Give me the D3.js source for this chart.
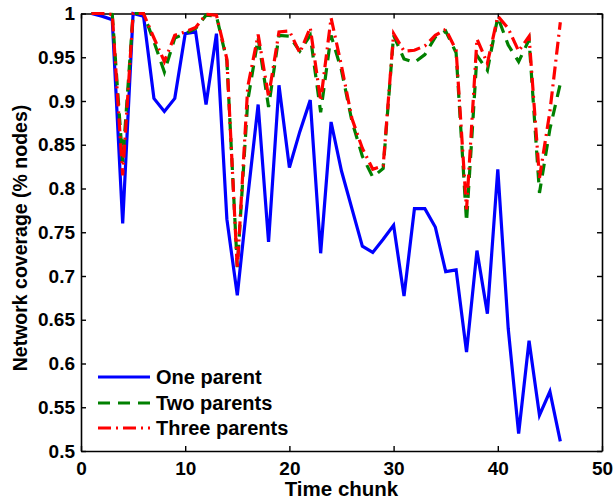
<!DOCTYPE html>
<html>
<head>
<meta charset="utf-8">
<script src="https://cdn.jsdelivr.net/npm/d3@7"></script>
<style>
  html, body { margin: 0; padding: 0; background: #fff; }
  svg text { font-family: "Liberation Sans", Arial, Helvetica, sans-serif; font-weight: bold; fill: #000; }
</style>
</head>
<body>
<svg id="chart" width="615" height="501"></svg>
<script>
const timeChunks = d3.range(1, 47);
const oneParent = [1.0, 0.997, 0.993, 0.760, 1.0, 0.997, 0.903, 0.888, 0.903, 0.977,
  0.979, 0.896, 0.977, 0.765, 0.678, 0.790, 0.896, 0.739, 0.918, 0.824,
  0.865, 0.901, 0.726, 0.876, 0.820, 0.777, 0.734, 0.727, 0.742, 0.758,
  0.677, 0.777, 0.777, 0.756, 0.705, 0.707, 0.613, 0.729, 0.657, 0.822,
  0.640, 0.520, 0.626, 0.541, 0.568, 0.511];
const twoParents = [1.0, 1.0, 0.999, 0.830, 1.0, 1.0, 0.968, 0.933, 0.972, 0.977,
  0.983, 0.998, 0.997, 0.946, 0.710, 0.900, 0.972, 0.893, 0.975, 0.974,
  0.957, 0.975, 0.887, 0.975, 0.935, 0.877, 0.837, 0.813, 0.823, 0.975,
  0.948, 0.944, 0.953, 0.973, 0.980, 0.955, 0.762, 0.952, 0.935, 0.996,
  0.964, 0.945, 0.970, 0.795, 0.868, 0.920];
const threeParents = [1.0, 1.0, 0.999, 0.815, 1.0, 1.0, 0.972, 0.945, 0.975, 0.979,
  0.984, 0.999, 0.998, 0.948, 0.708, 0.916, 0.976, 0.905, 0.979, 0.980,
  0.955, 0.984, 0.900, 0.995, 0.940, 0.880, 0.846, 0.822, 0.826, 0.977,
  0.957, 0.958, 0.963, 0.975, 0.982, 0.958, 0.776, 0.971, 0.943, 0.997,
  0.983, 0.957, 0.974, 0.812, 0.888, 0.990];
const seriesNames = ["One parent", "Two parents", "Three parents"];
const xTicks = [0, 10, 20, 30, 40, 50];
const yTicks = [0.5, 0.55, 0.6, 0.65, 0.7, 0.75, 0.8, 0.85, 0.9, 0.95, 1];
const yTickLabels = ["0.5", "0.55", "0.6", "0.65", "0.7", "0.75", "0.8", "0.85", "0.9", "0.95", "1"];

const series = [
  { name: seriesNames[0], values: oneParent, color: "#0000ff", dash: null },
  { name: seriesNames[1], values: twoParents, color: "#008000", dash: "12,8" },
  { name: seriesNames[2], values: threeParents, color: "#ff0000", dash: "13,5,2,5" }
];

const L = 81, R = 602, T = 13.5, B = 451;
const svg = d3.select("#chart");
const x = d3.scaleLinear().domain([0, 50]).range([L, R]);
const y = d3.scaleLinear().domain([0.5, 1]).range([B, T]);
const fs = 19;

// axes
const gx = svg.append("g").attr("transform", `translate(0,${B})`)
  .call(d3.axisBottom(x).tickValues(xTicks).tickSizeInner(-5).tickSizeOuter(0).tickPadding(11));
const gxt = svg.append("g").attr("transform", `translate(0,${T})`)
  .call(d3.axisTop(x).tickValues(xTicks).tickSizeInner(-5).tickSizeOuter(0).tickFormat(""));
const gy = svg.append("g").attr("transform", `translate(${L},0)`)
  .call(d3.axisLeft(y).tickValues(yTicks).tickSizeInner(-5).tickSizeOuter(0).tickPadding(6)
    .tickFormat((d, i) => yTickLabels[i]));
const gyr = svg.append("g").attr("transform", `translate(${R},0)`)
  .call(d3.axisRight(y).tickValues(yTicks).tickSizeInner(-5).tickSizeOuter(0).tickFormat(""));
[gx, gxt, gy, gyr].forEach(g => {
  g.selectAll("path.domain").attr("stroke", "#000").attr("stroke-width", 1.6);
  g.selectAll(".tick line").attr("stroke", "#000").attr("stroke-width", 1.4);
  g.selectAll(".tick text").style("font-size", fs + "px").style("font-family", "'Liberation Sans', Arial, sans-serif").style("font-weight", "bold").attr("fill", "#000");
});

// lines
const line = d3.line().x((d, i) => x(timeChunks[i])).y(d => y(d));
series.forEach(s => {
  svg.append("path").datum(s.values)
    .attr("fill", "none")
    .attr("stroke", s.color)
    .attr("stroke-width", 3.2)
    .attr("stroke-linejoin", "miter")
    .attr("stroke-dasharray", s.dash)
    .attr("d", line);
});

// legend
const legY = [377, 403, 428];
series.forEach((s, i) => {
  svg.append("line")
    .attr("x1", 98).attr("x2", 150)
    .attr("y1", legY[i]).attr("y2", legY[i])
    .attr("stroke", s.color).attr("stroke-width", 3.2)
    .attr("stroke-dasharray", s.dash);
  svg.append("text")
    .attr("x", 156).attr("y", legY[i] + 7)
    .style("font-size", "20px")
    .text(s.name);
});

// axis labels
svg.append("text")
  .attr("x", (L + R) / 2).attr("y", 496)
  .attr("text-anchor", "middle")
  .style("font-size", "20.5px")
  .text("Time chunk");
svg.append("text")
  .attr("transform", `translate(27,238) rotate(-90)`)
  .attr("text-anchor", "middle")
  .style("font-size", "19.5px")
  .text("Network coverage (% nodes)");
</script>
</body>
</html>
